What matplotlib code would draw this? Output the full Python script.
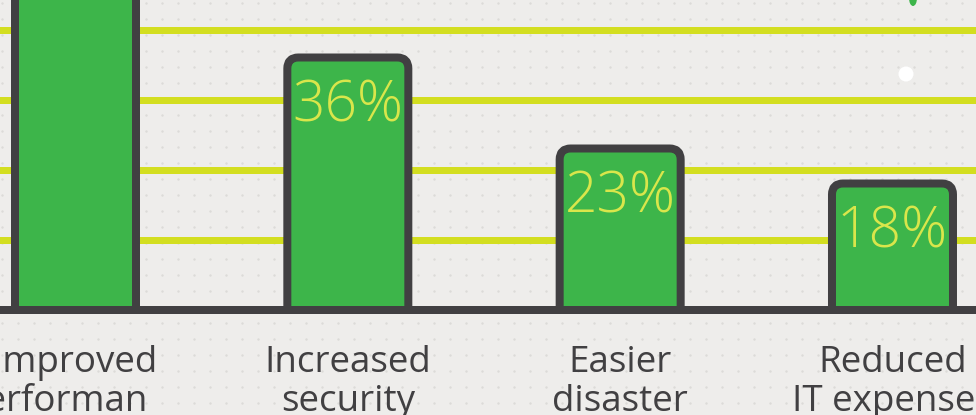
import numpy as np
import matplotlib.pyplot as plt
from matplotlib.patches import FancyBboxPatch, Ellipse, Circle
from matplotlib.transforms import Bbox, TransformedBbox

plt.rcParams.update({
    "font.family": ["Open Sans", "DejaVu Sans"],
})

# Data
categories = ["Improved\nperformance", "Increased\nsecurity",
              "Easier\ndisaster\nrecovery", "Reduced\nIT expenses"]
values = [50, 36, 23, 18]
gridlines = [10, 20, 30, 40]

bg_color = "#eeedeb"
bar_color = "#3db54a"
edge_color = "#414042"
grid_color = "#d3de20"
pct_color = "#d9e64b"

W, H = 976, 415
fig = plt.figure(figsize=(W / 100, H / 100), dpi=100)
fig.patch.set_facecolor(bg_color)

# background decoration: faint dot pattern, white dot, green drop
bg = fig.add_axes([0, 0, 1, 1], zorder=0)
bg.set_xlim(0, W)
bg.set_ylim(H, 0)
bg.axis("off")
gx, gy = np.meshgrid(np.arange(2, W, 16), np.arange(2.7, H, 16))
bg.scatter(gx.ravel(), gy.ravel(), s=3, color="#dcdbd8", linewidths=0)
bg.add_patch(Circle((906, 74), 7.5, color="white", lw=0))
bg.add_patch(Ellipse((913, -2), 8, 16, color=bar_color, lw=0))

# main chart area: bottom = baseline
base_px = 309.5
px_per_pct = 7.0
ax = fig.add_axes([0, (H - base_px) / H, 1, base_px / H], zorder=2)
ax.patch.set_visible(False)
for s in ax.spines.values():
    s.set_visible(False)

x = np.arange(len(values))
px_per_unit = 272.33
x0_px = 75.5
ax.set_xlim(-x0_px / px_per_unit, (W - x0_px) / px_per_unit)
ax.set_ylim(0, base_px / px_per_pct)
ax.set_xticks([])
ax.set_yticks([])

for g in gridlines:
    ax.axhline(g, color=grid_color, lw=7 * 0.72, zorder=1)

bar_w = 121 / px_per_unit
rx = 11 / px_per_unit
ry = 11 / px_per_pct
for xi, v in zip(x, values):
    p = FancyBboxPatch((xi - bar_w / 2, -3), bar_w, v + 3,
                       boxstyle=f"round,pad=0,rounding_size={rx}",
                       mutation_aspect=ry / rx,
                       facecolor=bar_color, edgecolor=edge_color,
                       lw=8 * 0.72, joinstyle="round", zorder=3)
    ax.add_patch(p)
    ax.annotate(f"{v}%", xy=(xi, v), xytext=(0, -64 * 0.72),
                textcoords="offset points", ha="center", va="baseline",
                fontsize=41, fontweight="light", color=pct_color, zorder=4)

ax.axhline(0, color=edge_color, lw=8 * 0.72, zorder=5, clip_on=False)

# category labels, one text per line; in the original the long word
# "performance" is cut off on the right by its text box
line_px = 39
cut_px = 149
for xi, lab in zip(x, categories):
    for k, line in enumerate(lab.split("\n")):
        off = 372 - base_px + k * line_px
        t = ax.annotate(line, xy=(xi, 0), xycoords=("data", "axes fraction"),
                        xytext=(0, -off * 0.72), textcoords="offset points",
                        ha="center", va="baseline", fontsize=26.5,
                        color=edge_color, annotation_clip=False)
        if xi == 0 and k == 1:
            box = TransformedBbox(Bbox([[-200, 0], [cut_px, H]]),
                                  bg.transData)
            t.set_clip_box(box)
            t.set_clip_on(True)

fig.savefig("out.png", dpi=100, facecolor=bg_color)
